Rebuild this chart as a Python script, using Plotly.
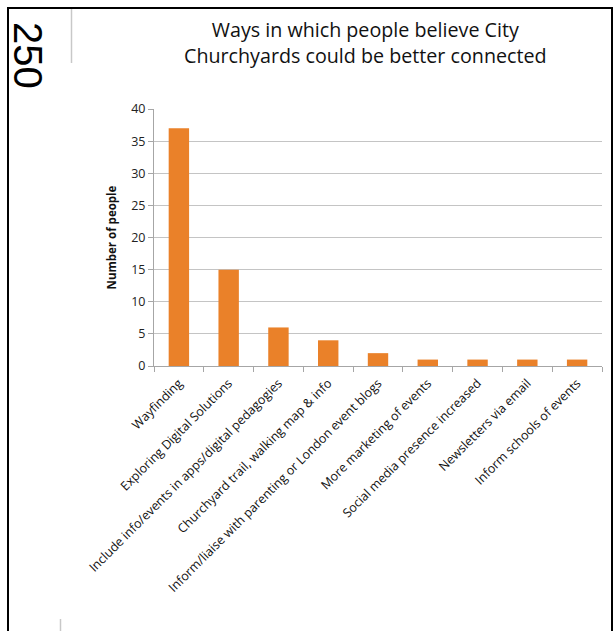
import plotly.graph_objects as go

categories = [
    "Wayfinding",
    "Exploring Digital Solutions",
    "Include info/events in apps/digital pedagogies",
    "Churchyard trail, walking map & info",
    "Inform/liaise with parenting or London event blogs",
    "More marketing of events",
    "Social media presence increased",
    "Newsletters via email",
    "Inform schools of events",
]
counts = [37, 15, 6, 4, 2, 1, 1, 1, 1]
y_ticks = [0, 5, 10, 15, 20, 25, 30, 35, 40]

W, H = 616, 631
L, R, T, B = 154, 602, 109, 366


def px(x):
    return (x - L) / (R - L)


def py(y):
    return (B - y) / (B - T)


fig = go.Figure()
fig.add_trace(go.Bar(
    x=categories,
    y=counts,
    marker=dict(color="#EA8129", line=dict(width=0)),
    width=0.41,
))

shapes = [
    dict(type="line", xref="paper", yref="paper", x0=px(8), x1=px(8), y0=py(7), y1=py(640),
         line=dict(color="black", width=2)),
    dict(type="line", xref="paper", yref="paper", x0=px(7), x1=px(613), y0=py(8), y1=py(8),
         line=dict(color="black", width=2)),
    dict(type="line", xref="paper", yref="paper", x0=px(612), x1=px(612), y0=py(7), y1=py(640),
         line=dict(color="black", width=2)),
    dict(type="line", xref="paper", yref="paper", x0=px(71.5), x1=px(71.5), y0=py(9), y1=py(63),
         line=dict(color="#C8C8C8", width=1.5)),
    dict(type="line", xref="paper", yref="paper", x0=px(60.5), x1=px(60.5), y0=py(619), y1=py(640),
         line=dict(color="#C8C8C8", width=1.5)),
]

annotations = [
    dict(text="250", xref="paper", yref="paper", x=px(28), y=py(55), showarrow=False,
         textangle=90, font=dict(family="Liberation Sans", size=40, color="black"),
         xanchor="center", yanchor="middle"),
    dict(text="Ways in which people believe City<br>Churchyards could be better connected",
         xref="paper", yref="paper", x=px(365.5), y=py(42), showarrow=False,
         xanchor="center", yanchor="middle",
         font=dict(family="Open Sans", size=19.7, color="#111111")),
]

fig.update_layout(
    width=W, height=H,
    margin=dict(l=L, r=W - R, t=T, b=H - B, autoexpand=False),
    paper_bgcolor="white", plot_bgcolor="white",
    showlegend=False,
    shapes=shapes,
    annotations=annotations,
    font=dict(family="Open Sans", color="#222222"),
    xaxis=dict(
        type="category",
        tickangle=-45,
        tickfont=dict(size=12.5, color="#111111"),
        ticklabelstandoff=4,
        showline=True, linecolor="#A6A6A6", linewidth=1,
        ticks="outside", ticklen=5, tickcolor="#A6A6A6",
        tickson="boundaries",
        showgrid=False,
        automargin=False,
    ),
    yaxis=dict(
        range=[0, 40],
        tickvals=y_ticks,
        tickfont=dict(size=12.5, color="#222222"),
        showline=True, linecolor="#A6A6A6", linewidth=1,
        ticks="outside", ticklen=5, tickcolor="#A6A6A6",
        showgrid=True, gridcolor="#C4C4C4", gridwidth=1,
        zeroline=False,
        title=dict(text="<b>Number of people</b>", font=dict(size=11.5, color="#111111"), standoff=12),
        automargin=False,
    ),
)

fig.write_html(
    "out.html",
    config={"displayModeBar": False},
    post_script="document.body.style.margin='0';document.body.style.padding='0';document.body.style.overflow='hidden';",
)
